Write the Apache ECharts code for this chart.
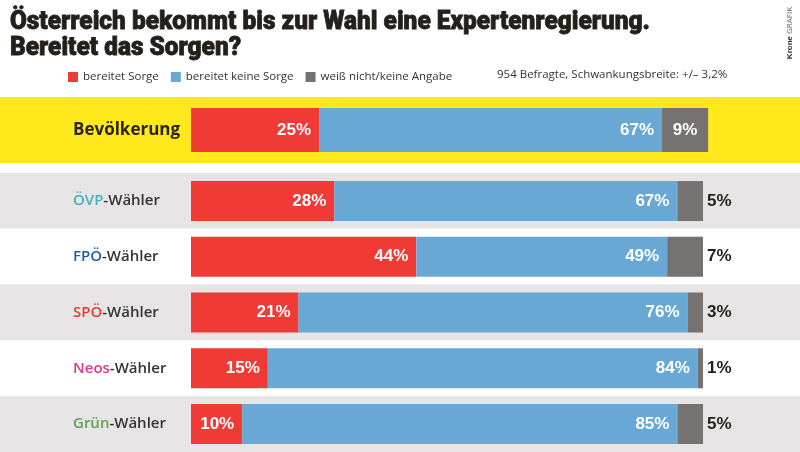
<!DOCTYPE html>
<html><head><meta charset="utf-8">
<script src="https://cdn.jsdelivr.net/npm/echarts@6/dist/echarts.min.js"></script>
<style>html,body{margin:0;padding:0;background:#fff}#c{width:800px;height:452px}</style>
</head><body><div id="c"></div>
<script>
const titleLines = ['Österreich bekommt bis zur Wahl eine Expertenregierung.', 'Bereitet das Sorgen?'];
const noteText = '954 Befragte, Schwankungsbreite: +/– 3,2%';

const topCategory = ['Bevölkerung'];
const topSorge = [25];
const topKeine = [67];
const topWeiss = [9];

const partyCategories = ['ÖVP', 'FPÖ', 'SPÖ', 'Neos', 'Grün'];
const partySorge = [28, 44, 21, 15, 10];
const partyKeine = [67, 49, 76, 84, 85];
const partyWeiss = [5, 7, 3, 1, 5];

const seriesNames = ['bereitet Sorge', 'bereitet keine Sorge', 'weiß nicht/keine Angabe'];
const partyColors = {'ÖVP':'#3fb3c0','FPÖ':'#1b5ea6','SPÖ':'#e23c3a','Neos':'#e0388f','Grün':'#5fa24c'};

const RED = '#ef3a36', BLUE = '#69a8d5', GRAY = '#767272';
const valFont = "'Liberation Sans',Arial,sans-serif";
const txtFont = "'Open Sans','Noto Sans',sans-serif";
const titleFontCss = "900 26px Roboto,'Liberation Sans',sans-serif";

const XMIN = -191/5.12, XMAX = XMIN + 800/5.12;

// measure title to condense it horizontally to the reference width
const mctx = document.createElement('canvas').getContext('2d');
mctx.font = titleFontCss;
const titleScale = 640 / mctx.measureText(titleLines[0]).width;

function valLabel(pos, color) {
  return {show:true, position:pos, distance: pos==='right'?4:8, formatter:'{c}%', color:color,
          fontFamily:valFont, fontWeight:'bold', fontSize:17};
}

const chart = echarts.init(document.getElementById('c'));
chart.setOption({
  backgroundColor:'#ffffff',
  animation:false,
  legend:{left:63, top:66, itemWidth:10, itemHeight:10, itemGap:12, icon:'rect', data:seriesNames,
    textStyle:{fontFamily:txtFont, fontSize:11.5, color:'#333'}},
  graphic:[
    {type:'text', x:10, y:9, scaleX:titleScale, style:{text:titleLines[0], font:titleFontCss, fill:'#231f1a', stroke:'#231f1a', lineWidth:0.8, verticalAlign:'top'}},
    {type:'text', x:10, y:35, scaleX:titleScale, style:{text:titleLines[1], font:titleFontCss, fill:'#231f1a', stroke:'#231f1a', lineWidth:0.8, verticalAlign:'top'}},
    {type:'text', x:497, y:69, style:{text:noteText, font:"11.5px 'Open Sans','Noto Sans',sans-serif", fill:'#333', verticalAlign:'top'}},
    {type:'text', x:790, y:33, rotation:Math.PI/2, style:{text:'{b|Krone} GRAFIK', rich:{b:{fontWeight:'bold', fontSize:8, fill:'#333'}}, fontSize:8, fill:'#666', fontFamily:txtFont, align:'center', verticalAlign:'middle'}}
  ],
  grid:[
    {left:0, right:0, top:97, height:66},
    {left:0, right:0, top:173, bottom:0}
  ],
  xAxis:[
    {gridIndex:0, type:'value', min:XMIN, max:XMAX, show:false},
    {gridIndex:1, type:'value', min:XMIN, max:XMAX, show:false}
  ],
  yAxis:[
    {gridIndex:0, type:'category', data:topCategory, inverse:true,
      axisLine:{show:false}, axisTick:{show:false},
      splitArea:{show:true, areaStyle:{color:['#ffe81c']}},
      axisLabel:{align:'left', margin:-73, fontFamily:txtFont, fontWeight:'bold', fontSize:17, color:'#2a2614'}},
    {gridIndex:1, type:'category', data:partyCategories, inverse:true,
      axisLine:{show:false}, axisTick:{show:false},
      splitArea:{show:true, areaStyle:{color:['#e6e4e4','#ffffff']}},
      axisLabel:{align:'left', margin:-73, fontFamily:txtFont, fontWeight:600, fontSize:15, color:'#333',
        formatter:function(v){ return '{p' + partyCategories.indexOf(v) + '|' + v + '}-Wähler'; },
        rich:(function(){ const r={}; partyCategories.forEach((p,i)=>{ r['p'+i]={color:partyColors[p], fontFamily:txtFont, fontWeight:600, fontSize:15}; }); return r; })()}}
  ],
  series:[
    {name:seriesNames[0], type:'bar', xAxisIndex:0, yAxisIndex:0, stack:'a', barWidth:44, data:topSorge, itemStyle:{color:RED}, label:valLabel('insideRight','#fff')},
    {name:seriesNames[1], type:'bar', xAxisIndex:0, yAxisIndex:0, stack:'a', barWidth:44, data:topKeine, itemStyle:{color:BLUE}, label:valLabel('insideRight','#fff')},
    {name:seriesNames[2], type:'bar', xAxisIndex:0, yAxisIndex:0, stack:'a', barWidth:44, data:topWeiss, itemStyle:{color:GRAY}, label:valLabel('inside','#fff')},
    {name:seriesNames[0], type:'bar', xAxisIndex:1, yAxisIndex:1, stack:'b', barWidth:40, data:partySorge, itemStyle:{color:RED}, label:valLabel('insideRight','#fff')},
    {name:seriesNames[1], type:'bar', xAxisIndex:1, yAxisIndex:1, stack:'b', barWidth:40, data:partyKeine, itemStyle:{color:BLUE}, label:valLabel('insideRight','#fff')},
    {name:seriesNames[2], type:'bar', xAxisIndex:1, yAxisIndex:1, stack:'b', barWidth:40, data:partyWeiss, itemStyle:{color:GRAY}, label:valLabel('right','#231f1a')}
  ]
});
</script></body></html>
